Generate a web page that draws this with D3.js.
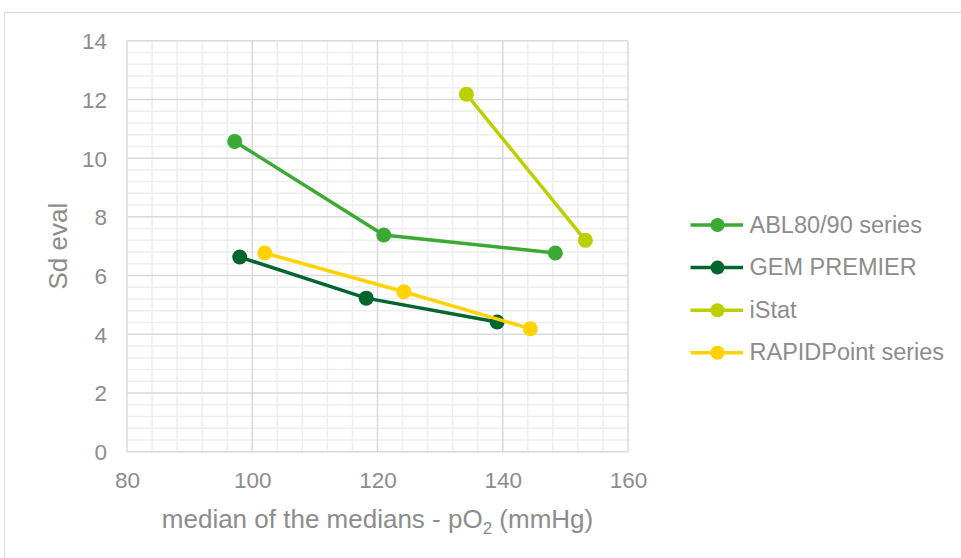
<!DOCTYPE html>
<html><head><meta charset="utf-8">
<script src="https://cdn.jsdelivr.net/npm/d3@7"></script>
<style>body{margin:0;background:#fff;}svg{display:block;}text{font-family:"Liberation Sans",Arial,sans-serif;}</style>
</head><body>
<svg id="c" width="961" height="558"></svg>
<script>
const seriesNames = ["ABL80/90 series","GEM PREMIER","iStat","RAPIDPoint series"];
const seriesColors = ["#3aaa35","#00652e","#bccf00","#ffd200"];
const ablX = [97.2,121,148.4];   const ablY = [10.57,7.38,6.77];
const gemX = [98,118.2,139.1];   const gemY = [6.63,5.23,4.42];
const istatX = [134.2,153.2];    const istatY = [12.18,7.2];
const rapidX = [102,124.2,144.4]; const rapidY = [6.77,5.45,4.19];
const xTicks = [80,100,120,140,160];
const yTicks = [0,2,4,6,8,10,12,14];
const xTitle = "median of the medians - pO";
const yTitle = "Sd eval";

const svg = d3.select("#c");
svg.append("rect").attr("x",4.5).attr("y",12.5).attr("width",970).attr("height",560).attr("fill","#fff").attr("stroke","#d9d9d9");
const L=127,R=628,T=40.7,B=451.7;
const x = d3.scaleLinear().domain([80,160]).range([L,R]);
const y = d3.scaleLinear().domain([0,14]).range([B,T]);
const g = svg.append("g");
// minor grid
d3.range(80,160.01,4).forEach(v=>{ if(v%20) g.append("line").attr("x1",x(v)).attr("x2",x(v)).attr("y1",T).attr("y2",B).attr("stroke","#eeeeee").attr("stroke-width",1.5);});
d3.range(0,14.01,0.4).forEach(v=>{ const r=Math.round(v*10)/10; if(Math.abs(r/2-Math.round(r/2))>1e-6) g.append("line").attr("x1",L).attr("x2",R).attr("y1",y(r)).attr("y2",y(r)).attr("stroke","#eeeeee").attr("stroke-width",1.5);});
// major grid
xTicks.forEach(v=>g.append("line").attr("x1",x(v)).attr("x2",x(v)).attr("y1",T).attr("y2",B).attr("stroke","#d9d9d9").attr("stroke-width",1.5));
yTicks.forEach(v=>g.append("line").attr("x1",L).attr("x2",R).attr("y1",y(v)).attr("y2",y(v)).attr("stroke","#d9d9d9").attr("stroke-width",1.5));
// axes labels via d3 axes
const xa = svg.append("g").attr("transform",`translate(0,${B})`).call(d3.axisBottom(x).tickValues(xTicks).tickSize(0).tickPadding(0));
const ya = svg.append("g").attr("transform",`translate(${L},0)`).call(d3.axisLeft(y).tickValues(yTicks).tickSize(0).tickPadding(20));
[xa,ya].forEach(a=>{a.select(".domain").remove(); a.selectAll("text").attr("fill","#8c8c8c").attr("font-size",22.5).attr("font-family","Liberation Sans, Arial, sans-serif");});
xa.selectAll("text").attr("dy",null).attr("y",36.5);
ya.selectAll("text").attr("dy",null).attr("y",8);
const xt = svg.append("text").attr("x",(L+R)/2).attr("y",528).attr("text-anchor","middle").attr("fill","#8c8c8c").attr("font-size",26);
xt.append("tspan").text(xTitle);
xt.append("tspan").text("2").attr("font-size",17).attr("dy",6);
xt.append("tspan").text(" (mmHg)").attr("dy",-6);
svg.append("text").attr("transform",`translate(67,${(T+B)/2}) rotate(-90)`).attr("text-anchor","middle").attr("fill","#8c8c8c").attr("font-size",26).text(yTitle);

const data = [[ablX,ablY],[gemX,gemY],[istatX,istatY],[rapidX,rapidY]];
const line = d3.line().x(d=>x(d[0])).y(d=>y(d[1]));
data.forEach(([xs,ys],i)=>{
  const pts = xs.map((v,j)=>[v,ys[j]]);
  svg.append("path").attr("d",line(pts)).attr("fill","none").attr("stroke",seriesColors[i]).attr("stroke-width",3.5);
  svg.selectAll(null).data(pts).enter().append("circle").attr("cx",d=>x(d[0])).attr("cy",d=>y(d[1])).attr("r",7.5).attr("fill",seriesColors[i]);
});
// legend
const lg = svg.append("g");
seriesNames.forEach((n,i)=>{
  const yy = 225 + i*42.6;
  lg.append("line").attr("x1",690.5).attr("x2",743).attr("y1",yy).attr("y2",yy).attr("stroke",seriesColors[i]).attr("stroke-width",3.5);
  lg.append("circle").attr("cx",717.5).attr("cy",yy).attr("r",7).attr("fill",seriesColors[i]);
  lg.append("text").attr("x",749.5).attr("y",yy+7.5).attr("fill","#8c8c8c").attr("font-size",23.5).text(n);
});
</script>
</body></html>
